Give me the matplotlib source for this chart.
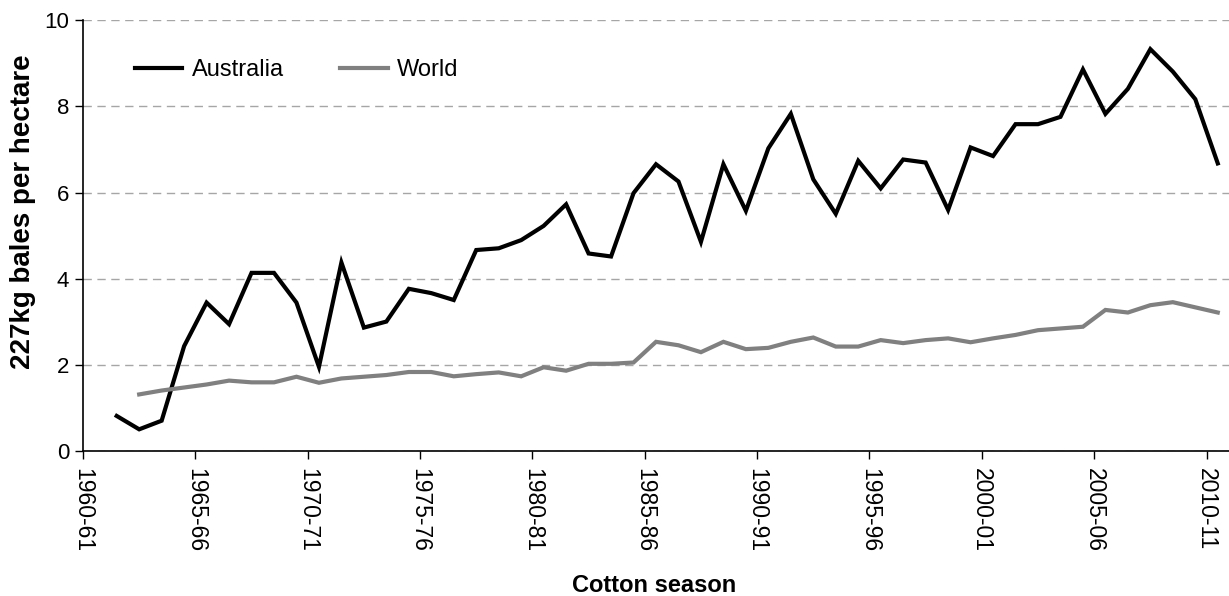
import numpy as np
import matplotlib
matplotlib.use("Agg")
import matplotlib.pyplot as plt

plt.rcParams['font.family'] = ['Liberation Sans', 'DejaVu Sans']

seasons = [f"{y}-{str(y + 1)[-2:]}" for y in range(1960, 2011)]

australia = [np.nan,
             0.82, 0.51, 0.71, 2.44, 3.45, 2.95, 4.14, 4.14, 3.45, 1.96,
             4.38, 2.87, 3.01, 3.77, 3.67, 3.51, 4.67, 4.71, 4.90, 5.23,
             5.73, 4.59, 4.52, 5.99, 6.66, 6.26, 4.86, 6.66, 5.58, 7.03,
             7.83, 6.31, 5.51, 6.74, 6.10, 6.77, 6.70, 5.60, 7.05, 6.85,
             7.59, 7.59, 7.76, 8.86, 7.83, 8.41, 9.33, 8.81, 8.17, 6.68]

world = [np.nan, np.nan,
         1.32, 1.41, 1.48, 1.55, 1.64, 1.60, 1.60, 1.73, 1.59,
         1.69, 1.73, 1.77, 1.84, 1.84, 1.74, 1.79, 1.83, 1.74, 1.95,
         1.87, 2.03, 2.03, 2.06, 2.54, 2.46, 2.30, 2.54, 2.37, 2.40,
         2.54, 2.64, 2.43, 2.43, 2.58, 2.51, 2.58, 2.62, 2.53, 2.62,
         2.70, 2.81, 2.85, 2.89, 3.28, 3.22, 3.39, 3.46, 3.34, 3.22]

yticks = [0, 2, 4, 6, 8, 10]
label_step = 5

W, H = 1229, 596
fig = plt.figure(figsize=(W / 100, H / 100), dpi=100)
ax = fig.add_axes([83 / W, 144.7 / H, (1229 - 83) / W, (575.7 - 144.7) / H])

x = np.arange(len(seasons)) + 0.5
ax.plot(x, australia, color='black', lw=3.0, solid_joinstyle='miter', label='Australia', zorder=3)
ax.plot(x, world, color='#808080', lw=3.0, solid_joinstyle='miter', label='World', zorder=3)

ax.set_xlim(0, len(seasons))
ax.set_ylim(0, 10)
ax.set_yticks(yticks)
ax.set_yticklabels([str(v) for v in yticks], fontsize=16)
tick_pos = list(range(0, len(seasons), label_step))
ax.set_xticks(tick_pos)
ax.set_xticklabels([seasons[i] for i in tick_pos], rotation=270, fontsize=16.5,
                   va='top', ha='center')
ax.tick_params(axis='both', direction='out', length=6, width=1, color='black')
ax.tick_params(axis='x', pad=6)
ax.tick_params(axis='y', pad=4)

ax.grid(axis='y', color='#a6a6a6', linestyle=(0, (6, 4)), linewidth=1.0, zorder=0)
ax.set_axisbelow(True)
for s in ['top', 'right']:
    ax.spines[s].set_visible(False)
for s in ['left', 'bottom']:
    ax.spines[s].set_linewidth(1.2)
    ax.spines[s].set_color('black')
    ax.spines[s].set_zorder(4)

ax.set_xlabel('Cotton season', fontsize=17, fontweight='bold')
ax.xaxis.set_label_coords((654 - 83) / (1229 - 83), (596 - 585 - 144.7) / (575.7 - 144.7))
ax.xaxis.label.set_va('center')
ax.set_ylabel('227kg bales per hectare', fontsize=20, fontweight='bold')
ax.yaxis.set_label_coords((23 - 83) / (1229 - 83), (451.3 - 212) / (451.3 - 20.3))
ax.yaxis.label.set_va('center')

fig.legend(loc='center left', bbox_to_anchor=(135 / W, 1 - 70 / H), ncol=2,
           frameon=False, fontsize=17, handlelength=2.0, handletextpad=0.4,
           columnspacing=2.4, borderpad=0, borderaxespad=0)

fig.savefig('out.png', dpi=100)
